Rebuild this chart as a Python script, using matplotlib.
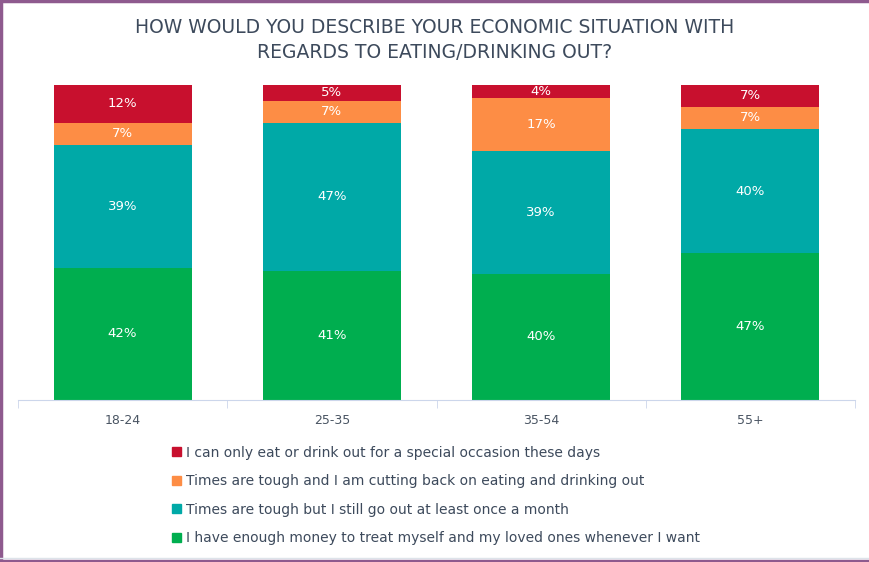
import numpy as np
import matplotlib
matplotlib.use("Agg")
import matplotlib.pyplot as plt
from matplotlib.lines import Line2D
from matplotlib.patches import Patch

plt.rcParams['font.family'] = ['DejaVu Sans']

categories = ['18-24', '25-35', '35-54', '55+']
series_names = [
    'I have enough money to treat myself and my loved ones whenever I want',
    'Times are tough but I still go out at least once a month',
    'Times are tough and I am cutting back on eating and drinking out',
    'I can only eat or drink out for a special occasion these days',
]
enough = [42, 41, 40, 47]
still_go = [39, 47, 39, 40]
cutting = [7, 7, 17, 7]
special = [12, 5, 4, 7]
colors = ['#00ae4f', '#00a9a7', '#fd8d45', '#c8102e']

values = np.array([enough, still_go, cutting, special], dtype=float)
totals = values.sum(axis=0)
pct = values / totals * 100

fig = plt.figure(figsize=(8.7, 5.62), dpi=100)
ax = fig.add_axes([18 / 870, 162 / 562, 837 / 870, 315 / 562])

x = np.arange(len(categories))
bottom = np.zeros(len(categories))
for i in range(len(values)):
    ax.bar(x, pct[i], bottom=bottom, width=0.66, color=colors[i], edgecolor='none')
    for j in range(len(categories)):
        ax.text(x[j], bottom[j] + pct[i][j] / 2, '%d%%' % values[i][j],
                ha='center', va='center', color='white', fontsize=9.5)
    bottom += pct[i]

ax.set_xlim(-0.5, len(categories) - 0.5)
ax.set_ylim(0, 100)
ax.set_yticks([])
for s in ['left', 'right', 'top']:
    ax.spines[s].set_visible(False)
ax.spines['bottom'].set_color('#ccd6eb')
ax.set_xticks(x)
ax.set_xticklabels(categories, fontsize=9, color='#4a5563')
ax.tick_params(axis='x', length=0, pad=10)
ax.set_xticks(np.arange(-0.5, len(categories)), minor=True)
ax.tick_params(axis='x', which='minor', length=6, color='#ccd6eb')

fig.text(0.5, 1 - 40 / 562, 'HOW WOULD YOU DESCRIBE YOUR ECONOMIC SITUATION WITH\nREGARDS TO EATING/DRINKING OUT?',
         ha='center', va='center', fontsize=13.5, color='#3d4a5c', linespacing=1.35)

handles = [Patch(color=colors[i]) for i in range(3, -1, -1)]
labels = [series_names[i] for i in range(3, -1, -1)]
leg = fig.legend(handles, labels, loc='upper left', bbox_to_anchor=(160 / 870, 1 - 433 / 562),
                 frameon=False, fontsize=10, handlelength=0.6, handleheight=0.6,
                 handletextpad=0.4, labelspacing=1.05, labelcolor='#3d4a5c')

fig.add_artist(Line2D([0.5 / 870, 0.5 / 870], [0, 1], color='#8e5a8e', lw=2.5))
fig.add_artist(Line2D([0, 1], [1 - 1 / 562, 1 - 1 / 562], color='#8e5a8e', lw=2.5))
fig.add_artist(Line2D([0, 1], [1 / 562, 1 / 562], color='#8e5a8e', lw=2.5))
fig.add_artist(Line2D([0, 1], [4 / 562, 4 / 562], color='#dde3ea', lw=1))

fig.savefig('out.png', dpi=100)
